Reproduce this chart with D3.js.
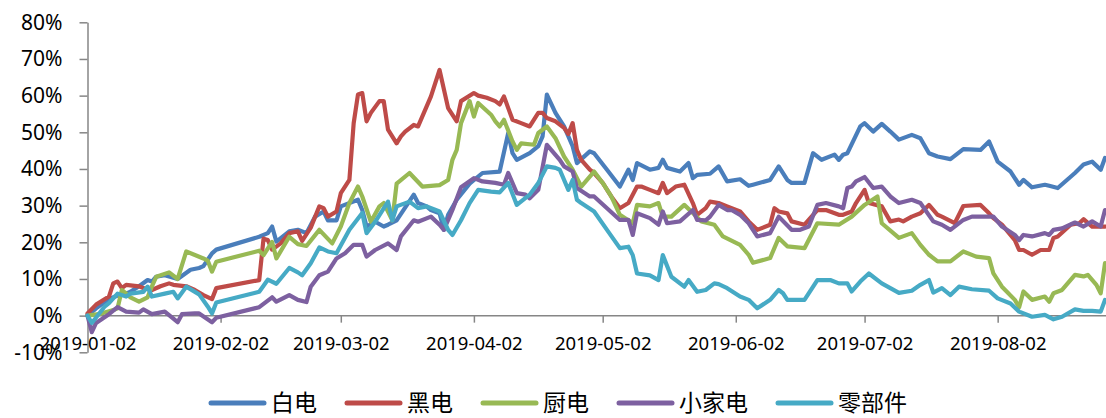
<!DOCTYPE html>
<html>
<head>
<meta charset="utf-8">
<script src="https://cdn.jsdelivr.net/npm/d3@7"></script>
<style>
  body { margin: 0; background: #fff; }
  svg { display: block; }
  .axis text { fill: #000; font-family: "Noto Sans", "Open Sans", sans-serif; }
  .axis path, .axis line { stroke: #868686; stroke-width: 1.5; }
</style>
</head>
<body>
<svg id="chart" width="1106" height="418"></svg>
<script>
// series values (% change since 2019-01-02)
const baidian = [["2019-01-02",0],["2019-01-04",2],["2019-01-07",4.5],["2019-01-09",5.5],["2019-01-11",6],["2019-01-12",6.5],["2019-01-14",8],["2019-01-16",9.7],["2019-01-17",9.3],["2019-01-18",10.6],["2019-01-20",11],["2019-01-23",10],["2019-01-26",12.5],["2019-01-28",13],["2019-01-29",13.5],["2019-01-31",17],["2019-02-01",18],["2019-02-11",21.5],["2019-02-13",22.5],["2019-02-14",24.3],["2019-02-15",20.2],["2019-02-18",23],["2019-02-20",23.4],["2019-02-22",22.5],["2019-02-24",27],["2019-02-26",28.4],["2019-02-27",26],["2019-03-01",26],["2019-03-02",29.8],["2019-03-06",31.6],["2019-03-07",28.8],["2019-03-08",24.3],["2019-03-10",25.6],["2019-03-12",24.3],["2019-03-13",24.8],["2019-03-15",26],["2019-03-19",33],["2019-03-20",30.7],["2019-03-22",29.8],["2019-03-23",28.8],["2019-03-25",27.9],["2019-03-26",23.4],["2019-03-27",27.5],["2019-03-29",31.6],["2019-04-01",36],["2019-04-04",38.9],["2019-04-08",39.3],["2019-04-10",49.8],["2019-04-11",44.3],["2019-04-12",42.5],["2019-04-15",44.3],["2019-04-17",46.2],["2019-04-18",48.9],["2019-04-19",60.3],["2019-04-21",55.3],["2019-04-23",51.6],["2019-04-25",46.2],["2019-04-26",41.6],["2019-04-29",44.8],["2019-04-30",44.3],["2019-05-03",39.8],["2019-05-06",35.2],["2019-05-08",39.8],["2019-05-09",37],["2019-05-10",41.6],["2019-05-13",39.8],["2019-05-15",40.3],["2019-05-16",42.5],["2019-05-17",40.3],["2019-05-20",39.3],["2019-05-22",41.6],["2019-05-23",37.5],["2019-05-24",38.4],["2019-05-27",38.7],["2019-05-29",40.7],["2019-05-31",36.6],["2019-06-03",37.2],["2019-06-05",35.4],["2019-06-06",35.7],["2019-06-10",37],["2019-06-12",40.7],["2019-06-14",37],["2019-06-15",36.2],["2019-06-18",36.2],["2019-06-20",44.3],["2019-06-22",42.5],["2019-06-25",43.9],["2019-06-26",42.5],["2019-06-27",43.9],["2019-06-28",44.3],["2019-07-01",51.6],["2019-07-02",52.5],["2019-07-04",50.2],["2019-07-06",52.3],["2019-07-08",50.2],["2019-07-10",48],["2019-07-13",49.3],["2019-07-15",48.4],["2019-07-17",44.3],["2019-07-19",43.4],["2019-07-22",42.7],["2019-07-25",45.4],["2019-07-29",45.2],["2019-07-31",47.5],["2019-08-02",42],["2019-08-05",39.3],["2019-08-07",35.7],["2019-08-08",37],["2019-08-10",35],["2019-08-13",35.7],["2019-08-14",35.4],["2019-08-16",34.8],["2019-08-20",38.9],["2019-08-22",41.2],["2019-08-24",42],["2019-08-26",39.8],["2019-08-27",43]];

const heidian = [["2019-01-02",0.6],["2019-01-04",3],["2019-01-07",5.2],["2019-01-08",8.8],["2019-01-09",9.3],["2019-01-10",7.5],["2019-01-11",8.4],["2019-01-14",8],["2019-01-15",7.5],["2019-01-17",7],["2019-01-19",8],["2019-01-21",8.8],["2019-01-22",8.4],["2019-01-25",8],["2019-01-27",7],["2019-01-29",5.6],["2019-01-31",4.5],["2019-02-01",7.5],["2019-02-11",9.7],["2019-02-12",21],["2019-02-13",20.6],["2019-02-14",18],["2019-02-16",19.7],["2019-02-18",22.5],["2019-02-20",23],["2019-02-21",20.4],["2019-02-23",24],["2019-02-25",29.8],["2019-02-26",29.3],["2019-02-27",27],["2019-03-01",28.4],["2019-03-02",33.4],["2019-03-04",37],["2019-03-05",52.5],["2019-03-06",60.3],["2019-03-07",60.7],["2019-03-08",53],["2019-03-09",55.3],["2019-03-11",58.5],["2019-03-12",58.5],["2019-03-13",50.7],["2019-03-15",47],["2019-03-16",48.9],["2019-03-17",50.2],["2019-03-19",52],["2019-03-20",51.6],["2019-03-23",59.8],["2019-03-25",67],["2019-03-27",56.6],["2019-03-29",53],["2019-03-30",58.5],["2019-04-02",60.7],["2019-04-03",60],["2019-04-05",59.4],["2019-04-07",58.5],["2019-04-08",57.6],["2019-04-09",59.8],["2019-04-10",56.6],["2019-04-11",53.4],["2019-04-13",52.5],["2019-04-15",51.6],["2019-04-17",55.3],["2019-04-18",55.3],["2019-04-19",53.9],["2019-04-21",53],["2019-04-23",51.2],["2019-04-24",49.5],["2019-04-25",52.5],["2019-04-26",45.2],["2019-04-27",42.5],["2019-04-29",39.8],["2019-04-30",38.9],["2019-05-02",36.2],["2019-05-04",32.5],["2019-05-06",29.3],["2019-05-08",30.7],["2019-05-10",35.2],["2019-05-11",35.2],["2019-05-13",34.3],["2019-05-15",33.4],["2019-05-16",36.2],["2019-05-17",33.4],["2019-05-19",35.2],["2019-05-21",35.7],["2019-05-23",30.7],["2019-05-24",27.5],["2019-05-26",29.3],["2019-05-27",31.1],["2019-05-29",30.7],["2019-05-31",29.8],["2019-06-03",28.4],["2019-06-05",25.7],["2019-06-07",23.4],["2019-06-10",24.8],["2019-06-11",29.3],["2019-06-12",28.4],["2019-06-14",27.9],["2019-06-15",25.7],["2019-06-18",24.8],["2019-06-21",28.8],["2019-06-23",28.8],["2019-06-26",27.5],["2019-06-27",27.5],["2019-06-29",28.4],["2019-06-30",30.7],["2019-07-02",34.3],["2019-07-03",30.7],["2019-07-06",29.8],["2019-07-08",25.7],["2019-07-10",26.2],["2019-07-11",25.7],["2019-07-13",27],["2019-07-15",27.9],["2019-07-17",30.2],["2019-07-19",27.5],["2019-07-20",27],["2019-07-23",25.2],["2019-07-25",29.9],["2019-07-29",30.2],["2019-07-31",27.9],["2019-08-01",26.6],["2019-08-03",24.8],["2019-08-06",20.6],["2019-08-07",17.9],["2019-08-08",17.9],["2019-08-10",16.6],["2019-08-12",17.9],["2019-08-14",17.9],["2019-08-15",21.2],["2019-08-16",21.6],["2019-08-19",24.8],["2019-08-21",25.2],["2019-08-22",26.3],["2019-08-24",24.3],["2019-08-26",24.3],["2019-08-27",24.3]];

const chudian = [["2019-01-02",0],["2019-01-05",0.5],["2019-01-08",1.5],["2019-01-09",2],["2019-01-10",7],["2019-01-12",5],["2019-01-14",3.8],["2019-01-16",5],["2019-01-17",8],["2019-01-18",10.6],["2019-01-21",11.8],["2019-01-23",10],["2019-01-25",17.5],["2019-01-29",15.6],["2019-01-30",15],["2019-01-31",12],["2019-02-01",14.7],["2019-02-11",17.7],["2019-02-12",16.5],["2019-02-14",20.1],["2019-02-15",15.6],["2019-02-18",21.5],["2019-02-20",19.5],["2019-02-22",19],["2019-02-25",23.4],["2019-02-28",19.7],["2019-03-02",24.3],["2019-03-04",30.7],["2019-03-06",35.2],["2019-03-07",32.5],["2019-03-09",25.6],["2019-03-11",29.8],["2019-03-12",30.7],["2019-03-14",26],["2019-03-15",36],["2019-03-18",38.9],["2019-03-21",35.2],["2019-03-25",35.6],["2019-03-27",37],["2019-03-28",42.5],["2019-03-29",45.2],["2019-03-30",52.5],["2019-04-01",58.5],["2019-04-02",54.3],["2019-04-03",58],["2019-04-06",54.8],["2019-04-07",53],["2019-04-08",51.6],["2019-04-09",53.4],["2019-04-11",47.5],["2019-04-12",45.2],["2019-04-13",47],["2019-04-16",46.6],["2019-04-17",49.8],["2019-04-19",51.6],["2019-04-21",48.4],["2019-04-23",43.4],["2019-04-25",39.8],["2019-04-27",35.2],["2019-04-30",39.3],["2019-05-02",36.2],["2019-05-04",32.5],["2019-05-06",27.5],["2019-05-09",25.2],["2019-05-10",30.2],["2019-05-13",29.8],["2019-05-15",30.7],["2019-05-16",27],["2019-05-18",27],["2019-05-21",30.2],["2019-05-23",28],["2019-05-25",25.7],["2019-05-28",24.8],["2019-05-30",21.6],["2019-06-03",19.3],["2019-06-05",16.6],["2019-06-06",14.4],["2019-06-10",15.7],["2019-06-12",21.2],["2019-06-14",18.9],["2019-06-18",18.4],["2019-06-21",25.2],["2019-06-26",24.8],["2019-06-29",27],["2019-07-02",30.2],["2019-07-05",32.5],["2019-07-06",25.2],["2019-07-10",21.2],["2019-07-13",22.5],["2019-07-15",19.3],["2019-07-17",16.6],["2019-07-19",14.8],["2019-07-22",14.8],["2019-07-25",17.5],["2019-07-28",16.1],["2019-07-31",15.7],["2019-08-01",11.5],["2019-08-03",7.9],["2019-08-06",4.3],["2019-08-07",2.3],["2019-08-08",6.6],["2019-08-10",4.3],["2019-08-13",5.2],["2019-08-14",3.8],["2019-08-15",6.1],["2019-08-17",7],["2019-08-20",11.1],["2019-08-22",10.7],["2019-08-23",11.1],["2019-08-25",8.4],["2019-08-26",6.1],["2019-08-27",14.3]];

const xiaojiadian = [["2019-01-02",0],["2019-01-03",-4.5],["2019-01-04",-2],["2019-01-07",0.4],["2019-01-09",2.3],["2019-01-11",1.1],["2019-01-14",0.8],["2019-01-15",1.7],["2019-01-17",0.4],["2019-01-20",1.1],["2019-01-23",-1.8],["2019-01-24",0.4],["2019-01-27",0.6],["2019-01-28",0.6],["2019-01-31",-1.8],["2019-02-01",-0.6],["2019-02-11",2.3],["2019-02-14",5],["2019-02-15",3.8],["2019-02-18",5.6],["2019-02-20",4.3],["2019-02-22",3.7],["2019-02-23",7.9],["2019-02-25",11],["2019-02-27",12],["2019-03-01",15.6],["2019-03-03",17],["2019-03-05",19.3],["2019-03-07",19.3],["2019-03-08",16.1],["2019-03-10",17.9],["2019-03-13",19.7],["2019-03-15",17.9],["2019-03-16",21.6],["2019-03-19",26],["2019-03-20",25.6],["2019-03-23",27],["2019-03-25",24.8],["2019-03-26",23.4],["2019-03-28",28.8],["2019-03-30",35],["2019-04-02",37.5],["2019-04-04",36.6],["2019-04-07",36.2],["2019-04-09",35.7],["2019-04-10",38.9],["2019-04-12",33.4],["2019-04-14",33],["2019-04-15",32],["2019-04-17",34.3],["2019-04-19",46.6],["2019-04-22",42.5],["2019-04-23",40.7],["2019-04-25",39.3],["2019-04-26",34.8],["2019-04-29",32.5],["2019-04-30",32.5],["2019-05-03",29.3],["2019-05-06",26.1],["2019-05-08",26.1],["2019-05-09",22],["2019-05-10",27.9],["2019-05-13",26.6],["2019-05-15",24.8],["2019-05-16",28.4],["2019-05-17",25.2],["2019-05-20",25.7],["2019-05-23",28.8],["2019-05-24",26.1],["2019-05-26",26],["2019-05-27",27],["2019-05-29",30.2],["2019-05-31",28.8],["2019-06-01",28.8],["2019-06-03",27.5],["2019-06-05",25.2],["2019-06-07",21.6],["2019-06-10",22.5],["2019-06-12",27],["2019-06-15",23.4],["2019-06-17",23.4],["2019-06-19",24.3],["2019-06-21",30.2],["2019-06-23",30.7],["2019-06-26",29.8],["2019-06-27",29.3],["2019-06-28",34.8],["2019-06-29",35.2],["2019-06-30",36.6],["2019-07-02",37.8],["2019-07-04",34.8],["2019-07-06",35.2],["2019-07-08",32.5],["2019-07-10",30.7],["2019-07-13",31.6],["2019-07-15",30.7],["2019-07-18",25.7],["2019-07-20",24.8],["2019-07-22",23.4],["2019-07-25",26.1],["2019-07-27",27],["2019-07-30",27],["2019-08-01",27],["2019-08-03",24.3],["2019-08-06",22],["2019-08-07",20.6],["2019-08-08",22],["2019-08-10",21.6],["2019-08-13",22.5],["2019-08-14",22],["2019-08-15",23.4],["2019-08-17",23.8],["2019-08-20",25.4],["2019-08-22",24.3],["2019-08-24",25.7],["2019-08-26",24.3],["2019-08-27",28.8]];

const lingbujian = [["2019-01-02",0],["2019-01-03",-2],["2019-01-06",2.5],["2019-01-07",3.4],["2019-01-09",6],["2019-01-11",5.2],["2019-01-12",6],["2019-01-15",6.5],["2019-01-16",7.9],["2019-01-17",5.2],["2019-01-20",6],["2019-01-22",6.5],["2019-01-23",4.7],["2019-01-25",7.9],["2019-01-28",5.8],["2019-01-30",2.5],["2019-01-31",0.6],["2019-02-01",3.6],["2019-02-11",6.5],["2019-02-13",9.8],["2019-02-15",8.7],["2019-02-18",13],["2019-02-20",11.8],["2019-02-21",11],["2019-02-23",14.3],["2019-02-25",18.6],["2019-02-27",17.5],["2019-03-01",17],["2019-03-04",23.4],["2019-03-07",28],["2019-03-08",22.5],["2019-03-10",25.6],["2019-03-13",31.1],["2019-03-14",26],["2019-03-15",29.8],["2019-03-18",31.1],["2019-03-20",29.3],["2019-03-22",29.8],["2019-03-25",28.4],["2019-03-27",23.4],["2019-03-28",22],["2019-03-30",26],["2019-04-01",30.7],["2019-04-03",34.3],["2019-04-06",33.8],["2019-04-08",33.6],["2019-04-10",36.2],["2019-04-12",30.2],["2019-04-15",33],["2019-04-17",36.2],["2019-04-19",40.7],["2019-04-21",40.3],["2019-04-22",39.8],["2019-04-24",34.3],["2019-04-25",37],["2019-04-26",31.6],["2019-04-27",30.7],["2019-04-30",28.4],["2019-05-03",23.4],["2019-05-06",18.4],["2019-05-08",18.8],["2019-05-09",16.5],["2019-05-10",11.5],["2019-05-13",11],["2019-05-15",9.7],["2019-05-16",16.5],["2019-05-18",10.6],["2019-05-21",7.9],["2019-05-22",9.7],["2019-05-24",6.5],["2019-05-26",7],["2019-05-28",8.8],["2019-05-29",8.6],["2019-05-31",7.5],["2019-06-03",5.2],["2019-06-05",4.3],["2019-06-07",2],["2019-06-10",4.3],["2019-06-12",7],["2019-06-13",6.1],["2019-06-14",4.3],["2019-06-18",4.3],["2019-06-21",9.7],["2019-06-24",9.7],["2019-06-26",8.8],["2019-06-28",8.8],["2019-06-29",6.6],["2019-07-01",9.3],["2019-07-03",11.5],["2019-07-06",8.8],["2019-07-10",6.2],["2019-07-13",6.8],["2019-07-15",8.4],["2019-07-17",9.7],["2019-07-18",6.3],["2019-07-20",7.5],["2019-07-22",5.6],["2019-07-24",7.9],["2019-07-27",7.2],["2019-07-31",6.8],["2019-08-02",4.7],["2019-08-05",3.3],["2019-08-07",1.1],["2019-08-10",-0.3],["2019-08-13",0.2],["2019-08-15",-1],["2019-08-17",-0.3],["2019-08-20",1.7],["2019-08-22",1.3],["2019-08-24",1.3],["2019-08-26",1.1],["2019-08-27",4.3]];

const seriesNames = ["白电", "黑电", "厨电", "小家电", "零部件"];
const seriesColors = ["#4A7EBB", "#BE4B48", "#98B954", "#7D60A0", "#46AAC5"];
const xTickLabels = ["2019-01-02", "2019-02-02", "2019-03-02", "2019-04-02", "2019-05-02", "2019-06-02", "2019-07-02", "2019-08-02"];
const yTicks = [-10, 0, 10, 20, 30, 40, 50, 60, 70, 80];

const parse = d3.timeParse("%Y-%m-%d");
const allSeries = [baidian, heidian, chudian, xiaojiadian, lingbujian];

const svg = d3.select("#chart");

const x = d3.scaleTime()
    .domain([parse("2019-01-02"), parse("2019-08-27")])
    .range([87.5, 1105]);

const y = d3.scaleLinear()
    .domain([-10, 80])
    .range([352.3, 22.3]);

// y axis
const yAxis = svg.append("g")
    .attr("class", "axis")
    .attr("transform", `translate(${x.range()[0]},0)`)
    .call(d3.axisLeft(y)
        .tickValues(yTicks)
        .tickSize(8)
        .tickSizeOuter(0)
        .tickPadding(17)
        .tickFormat((d) => d + "%"));
yAxis.selectAll("text").attr("font-size", 21);

// x axis crosses at 0%
const xAxis = svg.append("g")
    .attr("class", "axis")
    .attr("transform", `translate(0,${y(0)})`)
    .call(d3.axisBottom(x)
        .tickValues(xTickLabels.map(parse))
        .tickSize(7)
        .tickSizeOuter(0)
        .tickFormat(d3.timeFormat("%Y-%m-%d")));
xAxis.select(".domain").attr("d", `M${x.range()[0]},0H1106`);
xAxis.selectAll("text")
    .attr("font-size", 18.5)
    .attr("y", 34)
    .attr("dy", 0);

// lines
const line = d3.line()
    .x((d) => x(parse(d[0])))
    .y((d) => y(d[1]));

svg.append("g")
    .selectAll("path")
    .data(allSeries)
    .enter()
    .append("path")
    .attr("d", line)
    .attr("fill", "none")
    .attr("stroke", (d, i) => seriesColors[i])
    .attr("stroke-width", 4.2)
    .attr("stroke-linejoin", "round")
    .attr("stroke-linecap", "round");

// legend
const legend = svg.append("g").attr("transform", "translate(0,403)");
let lx = 211;
seriesNames.forEach((name, i) => {
    legend.append("line")
        .attr("x1", lx).attr("x2", lx + 53)
        .attr("y1", 0).attr("y2", 0)
        .attr("stroke", seriesColors[i])
        .attr("stroke-width", 5)
        .attr("stroke-linecap", "round");
    const t = legend.append("text")
        .attr("x", lx + 60)
        .attr("y", 0)
        .attr("dy", "0.36em")
        .attr("font-family", "'Noto Sans CJK SC', sans-serif")
        .attr("font-size", 23)
        .attr("fill", "#000")
        .text(name);
    lx += 60 + t.node().getComputedTextLength() + 30;
});
</script>
</body>
</html>
